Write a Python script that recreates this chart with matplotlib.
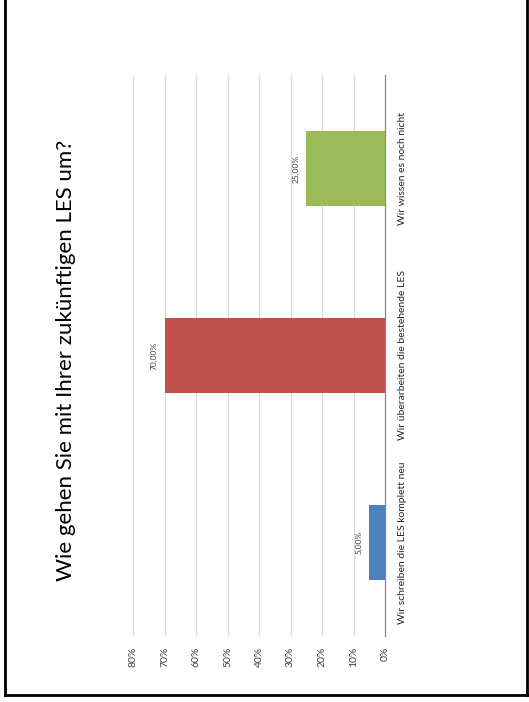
import matplotlib
matplotlib.use("Agg")
import matplotlib.pyplot as plt
from matplotlib.lines import Line2D

# Daten (Diagramm ist um 90° gedreht dargestellt)
kategorien = [
    "Wir schreiben die LES komplett neu",
    "Wir überarbeiten die bestehende LES",
    "Wir wissen es noch nicht",
]
anteile = [0.05, 0.70, 0.25]
farben = ["#4F81BD", "#C0504D", "#9BBB59"]
achsen_ticks = [0.0, 0.1, 0.2, 0.3, 0.4, 0.5, 0.6, 0.7, 0.8]
achsen_labels = ["0%", "10%", "20%", "30%", "40%", "50%", "60%", "70%", "80%"]
titel = "Wie gehen Sie mit Ihrer zukünftigen LES um?"

plt.rcParams['font.family'] = ['Lato', 'DejaVu Sans']

W, H = 529, 702
fig = plt.figure(figsize=(W / 100, H / 100), dpi=100)

# Achse in Pixel-Koordinaten platzieren
x0, x1 = 133, 385
y0, y1 = 75, 636
ax = fig.add_axes([x0 / W, 1 - y1 / H, (x1 - x0) / W, (y1 - y0) / H])

y_pos = range(len(kategorien))
ax.barh(y_pos, anteile, height=0.4, color=farben, zorder=3)

ax.set_xlim(0.8, 0)
ax.set_ylim(-0.5, len(kategorien) - 0.5)

# Gitterlinien
for t in achsen_ticks[1:]:
    ax.axvline(t, color="#D9D9D9", lw=0.9, zorder=1)

for s in ["top", "left", "bottom"]:
    ax.spines[s].set_visible(False)
ax.spines["right"].set_color("#868686")
ax.spines["right"].set_linewidth(0.9)

ax.set_xticks(achsen_ticks)
ax.set_xticklabels(achsen_labels, rotation=90, fontsize=7.5, color="#404040")
ax.tick_params(axis="x", length=0, pad=8)

ax.yaxis.tick_right()
ax.set_yticks(list(y_pos))
ax.set_yticklabels(kategorien, rotation=90, va="center", ha="left",
                   fontsize=7.5, color="#262626")
ax.tick_params(axis="y", length=0, pad=9)

# Wertbeschriftungen
for i, v in enumerate(anteile):
    txt = f"{v * 100:.2f}".replace(".", ",") + "%"
    ax.annotate(txt, (v, i), xytext=(-5, 0), textcoords="offset points",
                rotation=90, ha="right", va="center", fontsize=6,
                color="#404040")

fig.text(66 / W, 1 - 360 / H, titel, rotation=90, ha="center", va="center",
         fontsize=16, color="black")

# Rahmen
for xs, ys in [([5 / W, 5 / W], [1 - 695 / H, 1]),
               ([527 / W, 527 / W], [1 - 695 / H, 1]),
               ([5 / W, 527 / W], [1 - 695 / H, 1 - 695 / H])]:
    fig.add_artist(Line2D(xs, ys, transform=fig.transFigure, color="black", lw=2))

fig.savefig("out.png", dpi=100)
